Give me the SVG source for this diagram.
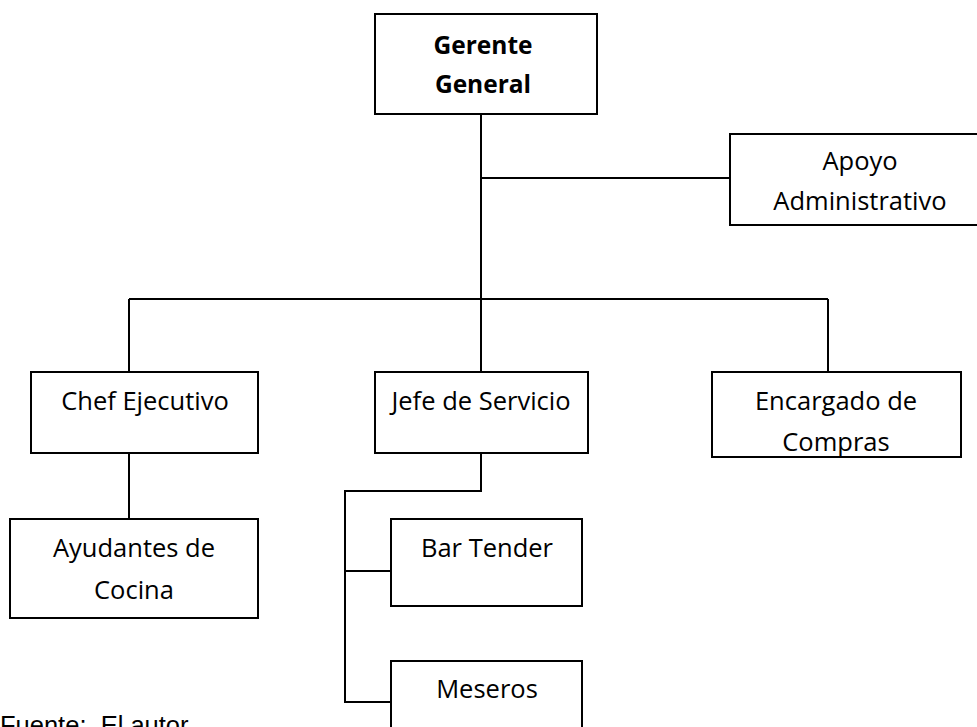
<svg xmlns="http://www.w3.org/2000/svg" width="977" height="727" viewBox="0 0 977 727">
<style>
.box{fill:#fff;stroke:#000;stroke-width:2}
.ln{fill:none;stroke:#000;stroke-width:2}
.t{font-family:"Open Sans","Noto Sans",sans-serif;font-size:25.5px;text-anchor:middle;fill:#000}
.b{font-weight:bold;font-size:24.5px}
.src{font-family:"Liberation Sans",Arial,sans-serif;font-size:25.5px;fill:#000}
</style>
<rect width="977" height="727" fill="#fff"/>
<g id="connectors">
<path class="ln" d="M481 114V372M481 178H730M129 299H828M129 299V372M828 299V372M129 453V519M481 453V491H345V702H391M345 571H391"/>
</g>
<g id="gerente"><rect class="box" x="375" y="14" width="222" height="100"/><text class="t b" x="483" y="54">Gerente</text><text class="t b" x="483" y="93">General</text></g>
<g id="apoyo"><rect class="box" x="730" y="134" width="262" height="91"/><text class="t" x="860" y="170">Apoyo</text><text class="t" x="860" y="210">Administrativo</text></g>
<g id="chef"><rect class="box" x="31" y="372" width="227" height="81"/><text class="t" x="145" y="410">Chef Ejecutivo</text></g>
<g id="jefe"><rect class="box" x="375" y="372" width="213" height="81"/><text class="t" x="481" y="410">Jefe de Servicio</text></g>
<g id="encargado"><rect class="box" x="712" y="372" width="249" height="86"/><text class="t" x="836" y="410">Encargado de</text><text class="t" x="836" y="451">Compras</text><rect x="711" y="456" width="252" height="20" fill="#fff"/><line class="ln" x1="711" y1="457" x2="962" y2="457"/></g>
<g id="ayudantes"><rect class="box" x="10" y="519" width="248" height="99"/><text class="t" x="134" y="557">Ayudantes de</text><text class="t" x="134" y="599">Cocina</text></g>
<g id="bartender"><rect class="box" x="391" y="519" width="191" height="87"/><text class="t" x="487" y="557">Bar Tender</text></g>
<g id="meseros"><rect class="box" x="391" y="661" width="191" height="80"/><text class="t" x="487" y="698">Meseros</text></g>
<text class="src" x="0" y="734" xml:space="preserve">Fuente:  El autor</text>
</svg>
